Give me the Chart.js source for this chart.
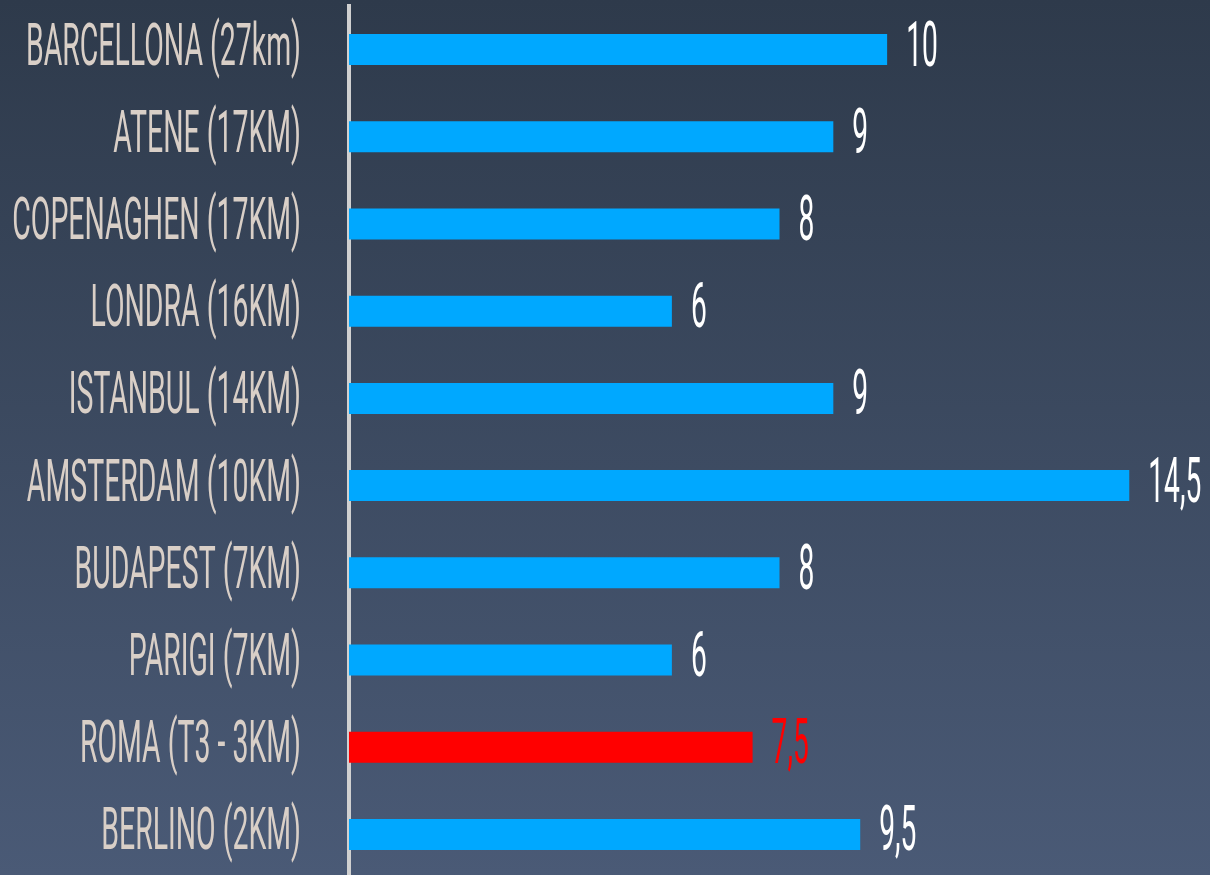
<!DOCTYPE html>
<html>
<head>
<meta charset="utf-8">
<script src="https://cdn.jsdelivr.net/npm/chart.js@4/dist/chart.umd.min.js"></script>
<style>
  html, body { margin: 0; padding: 0; overflow: hidden; }
  body { width: 1210px; height: 875px; background: linear-gradient(to bottom, #2e3a4b 0%, #4a5a76 100%); }
  canvas { display: block; }
</style>
</head>
<body>
<canvas id="c" width="1210" height="878"></canvas>
<script>
const categories = [
  "BARCELLONA (27km)", "ATENE (17KM)", "COPENAGHEN (17KM)", "LONDRA (16KM)",
  "ISTANBUL (14KM)", "AMSTERDAM (10KM)", "BUDAPEST (7KM)", "PARIGI (7KM)",
  "ROMA (T3 - 3KM)", "BERLINO (2KM)"
];
const values = [10, 9, 8, 6, 9, 14.5, 8, 6, 7.5, 9.5];
const valueLabels = ["10", "9", "8", "6", "9", "14,5", "8", "6", "7,5", "9,5"];
const highlightIndex = 8;

const BLUE = "#00a8ff", RED = "#ff0000";
const LABEL_COLOR = "#d9cfc7";
const FONT = "Roboto";

const labelPlugin = {
  id: "condensedLabels",
  afterDraw(chart) {
    const ctx = chart.ctx;
    const ys = chart.scales.y, xs = chart.scales.x;
    ctx.save();
    // category labels
    ctx.font = "400 59px " + FONT;
    const sxL = 275 / ctx.measureText(categories[0]).width;
    ctx.fillStyle = LABEL_COLOR;
    ctx.textAlign = "right";
    ctx.textBaseline = "alphabetic";
    categories.forEach((lab, i) => {
      const y = ys.getPixelForValue(i);
      ctx.save();
      ctx.translate(ys.right - 48, y + 15);
      ctx.scale(sxL, 1);
      ctx.fillText(lab, 0, 0);
      ctx.restore();
    });
    // value labels
    ctx.font = "400 63px " + FONT;
    const sxV = 53 / ctx.measureText("14,5").width;
    ctx.textAlign = "left";
    values.forEach((v, i) => {
      const y = ys.getPixelForValue(i);
      const x = xs.getPixelForValue(v);
      ctx.save();
      ctx.fillStyle = i === highlightIndex ? RED : "#ffffff";
      ctx.translate(x + 19, y + 16);
      ctx.scale(sxV, 1);
      ctx.fillText(valueLabels[i], 0, 0);
      ctx.restore();
    });
    ctx.restore();
  }
};

new Chart(document.getElementById("c"), {
  type: "bar",
  data: {
    labels: categories,
    datasets: [{
      data: values,
      backgroundColor: values.map((v, i) => i === highlightIndex ? RED : BLUE),
      borderWidth: 0,
      categoryPercentage: 1,
      barPercentage: 0.355
    }]
  },
  options: {
    indexAxis: "y",
    responsive: false,
    animation: false,
    layout: { padding: { top: 6, right: 0, bottom: 0, left: 0 } },
    plugins: { legend: { display: false }, tooltip: { enabled: false } },
    scales: {
      x: { display: false, min: 0, max: 16 },
      y: {
        ticks: { display: false },
        grid: { display: false },
        border: { display: true, color: "#d0d0d0", width: 4 },
        afterFit(scale) { scale.width = 349; }
      }
    }
  },
  plugins: [labelPlugin]
});
</script>
</body>
</html>
